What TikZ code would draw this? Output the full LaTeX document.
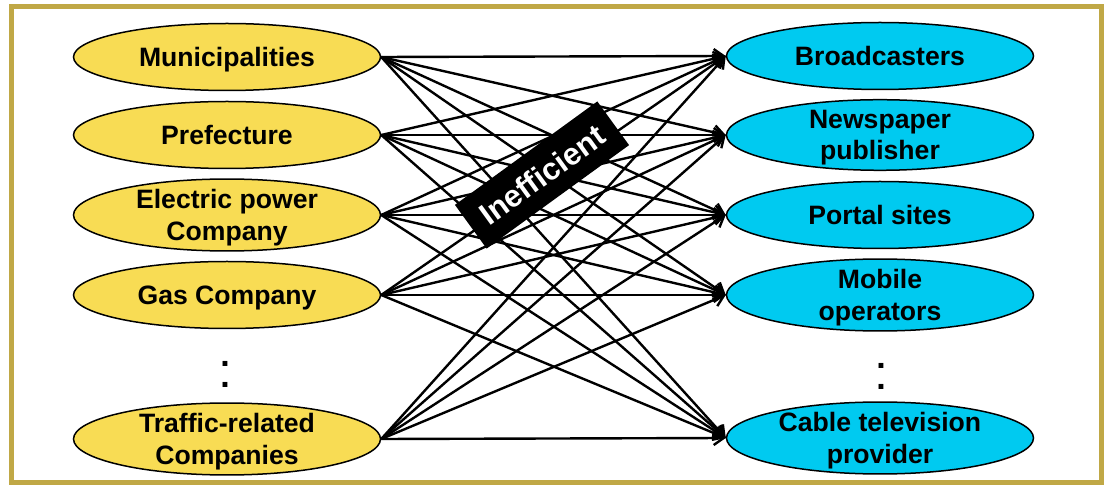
\documentclass[tikz,border=0pt]{standalone}
\usepackage{fontspec}
\setmainfont{Liberation Sans}
\usetikzlibrary{shapes.geometric, arrows.meta}
\definecolor{framegold}{RGB}{192,168,70}
\definecolor{srcyellow}{RGB}{248,220,84}
\definecolor{dstcyan}{RGB}{0,202,240}
\tikzset{
	provider/.style={ellipse, draw, line width=0.75pt, minimum width=153.5pt, minimum height=33.5pt, inner sep=0pt, text depth=0pt, align=center, font=\fontsize{13.3}{15.8}\selectfont\bfseries},
	moredots/.style={align=center, inner sep=0pt, font=\fontsize{17}{10.5}\selectfont\bfseries},
}
\begin{document}
\begin{tikzpicture}[x=0.5pt, y=-0.5pt, >={Straight Barb[length=5pt, width=7pt]}]
	\useasboundingbox (0,0) rectangle (1105,486);
	%frame
	\draw[framegold, line width=2.5pt] (11,7) rectangle (1101,483);
	
	%data holders
	\node[provider, fill=srcyellow] (s1) at (227,57) {Municipalities};
	\node[provider, fill=srcyellow] (s2) at (227,135) {Prefecture};
	\node[provider, fill=srcyellow] (s3) at (227,215) {Electric power\\Company};
	\node[provider, fill=srcyellow] (s4) at (227,295) {Gas Company};
	\node[provider, fill=srcyellow] (s5) at (227,439) {Traffic-related\\Companies};
	\node[moredots] (sdots) at (225,374) {.\\.};
	
	%media
	\node[provider, fill=dstcyan] (d1) at (880,56) {Broadcasters};
	\node[provider, fill=dstcyan] (d2) at (880,135) {Newspaper\\publisher};
	\node[provider, fill=dstcyan] (d3) at (880,215) {Portal sites};
	\node[provider, fill=dstcyan] (d4) at (880,295) {Mobile\\operators};
	\node[provider, fill=dstcyan] (d5) at (880,438) {Cable television\\provider};
	\node[moredots] (ddots) at (881,376) {.\\.};
	
	%every holder to every medium
	\foreach \s in {1,...,5}{
		\foreach \d in {1,...,5}{
			\draw[->, line width=1.2pt] (s\s.east) -- (d\d.west);
		}
	}
	
	\node[fill=black, text=white, rotate=36, minimum width=88pt, minimum height=27pt, font=\fontsize{15.5}{18}\selectfont\bfseries] (ineff) at (542,175) {Inefficient};
\end{tikzpicture}
\end{document}
